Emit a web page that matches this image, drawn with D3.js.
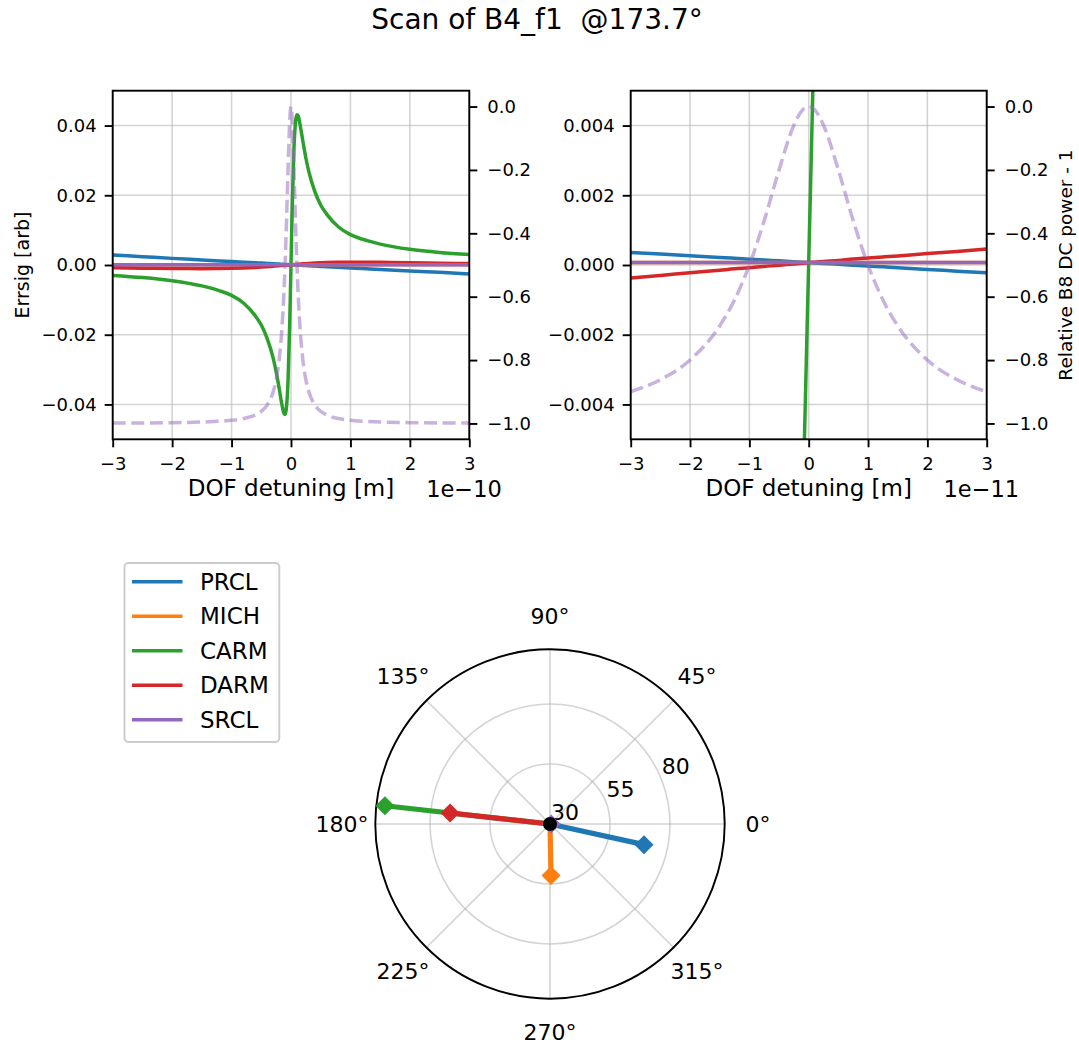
<!DOCTYPE html>
<html><head><meta charset="utf-8">
<script src="https://cdn.jsdelivr.net/npm/d3@7"></script>
<style>
html,body{margin:0;padding:0;background:#fff;}
text{font-family:"DejaVu Sans",sans-serif;fill:#000;}
</style></head>
<body>
<svg id="fig" width="1079" height="1043"></svg>
<script>
// ---------------- DATA ----------------
const seriesNames = ["PRCL", "MICH", "CARM", "DARM", "SRCL"];
const seriesColors = ["#1f77b4", "#ff7f0e", "#2ca02c", "#d62728", "#9467bd"];

// Left scan: detuning in units of 1e-10 m
const scanX1 = [-3, -2.5, -2, -1.5, -1.2, -1, -0.8, -0.6, -0.5, -0.4, -0.3, -0.25, -0.2, -0.15, -0.12, -0.1, -0.08, -0.05, -0.02, 0,
  0.02, 0.05, 0.08, 0.1, 0.12, 0.15, 0.2, 0.25, 0.3, 0.4, 0.5, 0.6, 0.8, 1, 1.2, 1.5, 2, 2.5, 3];
const prcl1 = [0.0029, 0.0024, 0.0019, 0.00145, 0.00118, 0.001, 0.00082, 0.00063, 0.00054, 0.00045, 0.00035, 0.00031, 0.00026, 0.00021, 0.00018, 0.00016, 0.00015, 0.00012, 0.00009, 0.00007,
  0.00005, 0.00002, -0.00001, -0.00003, -0.00005, -0.00008, -0.00013, -0.00018, -0.00023, -0.00032, -0.00041, -0.0005, -0.00068, -0.00086, -0.00103, -0.00128, -0.0017, -0.0021, -0.0026];
const mich1 = [0.00007, 0.00007, 0.00007, 0.00007, 0.00007, 0.00007, 0.00007, 0.00007, 0.00007, 0.00007, 0.00007, 0.00007, 0.00007, 0.00007, 0.00007, 0.00007, 0.00007, 0.00007, 0.00007, 0.00007,
  0.00007, 0.00007, 0.00007, 0.00007, 0.00007, 0.00007, 0.00007, 0.00007, 0.00007, 0.00007, 0.00007, 0.00007, 0.00007, 0.00007, 0.00007, 0.00007, 0.00007, 0.00007, 0.00007];
const carm1 = [-0.0030, -0.0036, -0.0045, -0.0060, -0.0074, -0.0087, -0.0109, -0.0146, -0.0172, -0.0211, -0.0267, -0.0306, -0.0353, -0.0403, -0.0425, -0.0429, -0.0414, -0.0333, -0.0158, 0.00007,
  0.0160, 0.0335, 0.0416, 0.0431, 0.0428, 0.0405, 0.0355, 0.0307, 0.0268, 0.0211, 0.0172, 0.0146, 0.0109, 0.0087, 0.0074, 0.0060, 0.0045, 0.0036, 0.0030];
const darm1 = [-0.00077, -0.0009, -0.00102, -0.00104, -0.001, -0.00094, -0.00085, -0.0007, -0.0006, -0.00048, -0.00035, -0.00028, -0.00021, -0.00014, -0.0001, -0.00007, -0.00004, 0.0, 0.00004, 0.00007,
  0.0001, 0.00014, 0.00018, 0.0002, 0.00023, 0.00027, 0.00033, 0.00039, 0.00045, 0.00055, 0.00063, 0.0007, 0.00076, 0.00078, 0.00078, 0.00076, 0.00068, 0.00053, 0.0004];
const srcl1 = [0.00007, 0.00007, 0.00007, 0.00007, 0.00007, 0.00007, 0.00007, 0.00007, 0.00007, 0.00007, 0.00007, 0.00007, 0.00007, 0.00007, 0.00007, 0.00007, 0.00007, 0.00007, 0.00007, 0.00007,
  0.00007, 0.00007, 0.00007, 0.00007, 0.00007, 0.00007, 0.00007, 0.00007, 0.00007, 0.00007, 0.00007, 0.00007, 0.00007, 0.00007, 0.00007, 0.00007, 0.00007, 0.00007, 0.00007];
const power1 = [-0.9989, -0.9984, -0.9975, -0.9956, -0.9931, -0.9901, -0.9846, -0.9730, -0.9615, -0.9412, -0.9, -0.8621, -0.8, -0.6923, -0.5902, -0.5, -0.3902, -0.2, -0.0385, 0,
  -0.0385, -0.2, -0.3902, -0.5, -0.5902, -0.6923, -0.8, -0.8621, -0.9, -0.9412, -0.9615, -0.9730, -0.9846, -0.9901, -0.9931, -0.9956, -0.9975, -0.9984, -0.9989];

// Right scan: detuning in units of 1e-11 m
const scanX2 = [-3, -2.5, -2, -1.5, -1.25, -1, -0.75, -0.5, -0.25, -0.1, 0, 0.1, 0.25, 0.5, 0.75, 1, 1.25, 1.5, 2, 2.5, 3];
const prcl2 = [0.00036, 0.000316, 0.000267, 0.000217, 0.000193, 0.000168, 0.000144, 0.000119, 0.000095, 0.00008, 0.00007, 0.00006, 0.000045, 0.000021, -0.000004, -0.000028, -0.000053, -0.000077, -0.000127, -0.000176, -0.000225];
const mich2 = [0.00007, 0.00007, 0.00007, 0.00007, 0.00007, 0.00007, 0.00007, 0.00007, 0.00007, 0.00007, 0.00007, 0.00007, 0.00007, 0.00007, 0.00007, 0.00007, 0.00007, 0.00007, 0.00007, 0.00007, 0.00007];
const carm2 = [-0.0267, -0.0306, -0.0353, -0.0403, -0.0423, -0.0429, -0.0406, -0.0333, -0.0194, -0.0070, 0.00007, 0.0072, 0.0196, 0.0335, 0.0407, 0.0430, 0.0424, 0.0404, 0.0354, 0.0307, 0.0268];
const darm2 = [-0.00037, -0.0003, -0.00022, -0.00015, -0.00011, -0.00008, -0.00004, -0.00001, 0.00003, 0.00005, 0.00007, 0.00008, 0.0001, 0.00013, 0.00017, 0.0002, 0.00023, 0.00026, 0.00033, 0.00039, 0.00046];
const srcl2 = [0.00007, 0.00007, 0.00007, 0.00007, 0.00007, 0.00007, 0.00007, 0.00007, 0.00007, 0.00007, 0.00007, 0.00007, 0.00007, 0.00007, 0.00007, 0.00007, 0.00007, 0.00007, 0.00007, 0.00007, 0.00007];
const power2 = [-0.9, -0.862, -0.8, -0.692, -0.61, -0.5, -0.36, -0.2, -0.0588, -0.0099, 0, -0.0099, -0.0588, -0.2, -0.36, -0.5, -0.61, -0.692, -0.8, -0.862, -0.9];

// Tick labels
const xTicks = [-3, -2, -1, 0, 1, 2, 3];
const yTicksL1 = [-0.04, -0.02, 0, 0.02, 0.04];
const yTicksL2 = [-0.004, -0.002, 0, 0.002, 0.004];
const yTicksR = [-1.0, -0.8, -0.6, -0.4, -0.2, 0.0];

// Polar (sensing matrix) data
const polarAngleDeg = [347.6, 271.1, 173.7, 173.7, 0];
const polarMag = [70.1, 51.5, 99.2, 71.9, 30.5];
const polarRTicks = [30, 55, 80];
const polarThetaTicks = [0, 45, 90, 135, 180, 225, 270, 315];

// ---------------- DRAW ----------------
const svg = d3.select("#fig");
const minus = s => s.replace("-", "\u2212");
const TICKFS = 18;

svg.append("text").attr("x", 537).attr("y", 28.5).attr("text-anchor", "middle")
  .attr("xml:space", "preserve").style("white-space", "pre")
  .style("font-size", "28px").text("Scan of B4_f1  @173.7°");

function panel(opt) {
  const {x0, x1, y0, y1, xs, series, power, yDomain, yTicks, yFmt, offsetText, showLeftLabel, showRightLabel, id} = opt;
  const g = svg.append("g");
  const x = d3.scaleLinear().domain([-3, 3]).range([x0, x1]);
  const yl = d3.scaleLinear().domain(yDomain).range([y1, y0]);
  const yr = d3.scaleLinear().domain([-1.05, 0.05]).range([y1, y0]);

  svg.append("clipPath").attr("id", id).append("rect")
    .attr("x", x0).attr("y", y0).attr("width", x1 - x0).attr("height", y1 - y0);

  // grid
  const grid = g.append("g").attr("stroke", "#b0b0b0").attr("stroke-opacity", 0.55).attr("stroke-width", 1.6);
  xTicks.forEach(t => grid.append("line").attr("x1", x(t)).attr("x2", x(t)).attr("y1", y0).attr("y2", y1));
  yTicks.forEach(t => grid.append("line").attr("y1", yl(t)).attr("y2", yl(t)).attr("x1", x0).attr("x2", x1));

  // lines
  const data = g.append("g").attr("clip-path", `url(#${id})`);
  series.forEach((vals, i) => {
    const pts = xs.map((xv, k) => [xv, vals[k]]);
    data.append("path").datum(pts)
      .attr("d", d3.line().x(d => x(d[0])).y(d => yl(d[1])).curve(d3.curveMonotoneX))
      .attr("fill", "none").attr("stroke", seriesColors[i]).attr("stroke-width", 3.5);
  });
  const ppts = xs.map((xv, k) => [xv, power[k]]);
  data.append("path").datum(ppts)
    .attr("d", d3.line().x(d => x(d[0])).y(d => yr(d[1])).curve(d3.curveMonotoneX))
    .attr("fill", "none").attr("stroke", "#9467bd").attr("stroke-opacity", 0.5)
    .attr("stroke-width", 3.5).attr("stroke-dasharray", "13,5.6");

  // axes
  const styleAxis = sel => {
    sel.select(".domain").remove();
    sel.selectAll(".tick line").attr("stroke", "#000").attr("stroke-width", 1.9);
    sel.selectAll(".tick text").style("font-size", TICKFS + "px").style("font-family", "DejaVu Sans");
  };
  g.append("g").attr("transform", `translate(0,${y1})`)
    .call(d3.axisBottom(x).tickValues(xTicks).tickSize(8).tickPadding(10).tickFormat(d => minus(String(d))))
    .call(styleAxis);
  g.append("g").attr("transform", `translate(${x0},0)`)
    .call(d3.axisLeft(yl).tickValues(yTicks).tickSize(8).tickPadding(8).tickFormat(d => minus(yFmt(d))))
    .call(styleAxis);
  g.append("g").attr("transform", `translate(${x1},0)`)
    .call(d3.axisRight(yr).tickValues(yTicksR).tickSize(8).tickPadding(10).tickFormat(d => minus(d3.format(".1f")(d))))
    .call(styleAxis);

  // frame
  g.append("rect").attr("x", x0).attr("y", y0).attr("width", x1 - x0).attr("height", y1 - y0)
    .attr("fill", "none").attr("stroke", "#000").attr("stroke-width", 1.9);

  g.append("text").attr("x", (x0 + x1) / 2).attr("y", 495.7).attr("text-anchor", "middle")
    .style("font-size", "23px").text("DOF detuning [m]");
  g.append("text").attr("x", x1 + 32.5).attr("y", 496.7).attr("text-anchor", "end")
    .style("font-size", "22.5px").text(offsetText);
  if (showLeftLabel) {
    g.append("text").attr("transform", `translate(22,${(y0 + y1) / 2}) rotate(-90)`)
      .attr("text-anchor", "middle").attr("dominant-baseline", "central")
      .style("font-size", "19px").text("Errsig [arb]");
  }
  if (showRightLabel) {
    g.append("text").attr("transform", `translate(1065,${(y0 + y1) / 2}) rotate(-90)`)
      .attr("text-anchor", "middle").attr("dominant-baseline", "central")
      .style("font-size", "18.5px").text("Relative B8 DC power - 1");
  }
}

panel({x0: 112.7, x1: 469.3, y0: 90.7, y1: 439.3, xs: scanX1,
  series: [prcl1, mich1, carm1, darm1, srcl1], power: power1,
  yDomain: [-0.05, 0.05], yTicks: yTicksL1, yFmt: d3.format(".2f"),
  offsetText: "1e\u221210", showLeftLabel: true, showRightLabel: false, id: "clipL"});
panel({x0: 630.7, x1: 986.7, y0: 90.7, y1: 439.3, xs: scanX2,
  series: [prcl2, mich2, carm2, darm2, srcl2], power: power2,
  yDomain: [-0.005, 0.005], yTicks: yTicksL2, yFmt: d3.format(".3f"),
  offsetText: "1e\u221211", showLeftLabel: false, showRightLabel: true, id: "clipR"});

// ---------------- POLAR ----------------
const cx = 550, cy = 824, R = 174.7;
const r = d3.scaleLinear().domain([30, 102.8]).range([0, R]);
const pg = svg.append("g");
const toXY = (deg, rv) => {
  const a = deg * Math.PI / 180;
  return [cx + r(rv) * Math.cos(a), cy - r(rv) * Math.sin(a)];
};
const pgrid = pg.append("g").attr("stroke", "#b0b0b0").attr("stroke-opacity", 0.55).attr("stroke-width", 1.6).attr("fill", "none");
polarRTicks.forEach(t => pgrid.append("circle").attr("cx", cx).attr("cy", cy).attr("r", r(t)));
polarThetaTicks.forEach(t => {
  const [ex, ey] = toXY(t, 102.8);
  pgrid.append("line").attr("x1", cx).attr("y1", cy).attr("x2", ex).attr("y2", ey);
});
pg.append("circle").attr("cx", cx).attr("cy", cy).attr("r", R)
  .attr("fill", "none").attr("stroke", "#000").attr("stroke-width", 1.9);

polarThetaTicks.forEach(t => {
  const a = t * Math.PI / 180;
  pg.append("text").attr("x", cx + 208 * Math.cos(a)).attr("y", cy - 208 * Math.sin(a))
    .attr("text-anchor", "middle").attr("dominant-baseline", "central")
    .style("font-size", "22px").text(t + "°");
});
polarRTicks.forEach(t => {
  const [px, py] = toXY(22.5, t);
  pg.append("text").attr("x", px + 1).attr("y", py - 4).attr("text-anchor", "start")
    .style("font-size", "22px").text(t);
});

polarMag.forEach((m, i) => {
  const [px, py] = toXY(polarAngleDeg[i], m);
  pg.append("line").attr("x1", cx).attr("y1", cy).attr("x2", px).attr("y2", py)
    .attr("stroke", seriesColors[i]).attr("stroke-width", 5.2);
  const s = 9.5;
  pg.append("path").attr("d", `M${px},${py - s}L${px + s},${py}L${px},${py + s}L${px - s},${py}Z`)
    .attr("fill", seriesColors[i]);
});
pg.append("circle").attr("cx", cx).attr("cy", cy).attr("r", 7).attr("fill", "#000");

// ---------------- LEGEND ----------------
const lg = svg.append("g");
lg.append("rect").attr("x", 124.5).attr("y", 563).attr("width", 154.8).attr("height", 179)
  .attr("rx", 4).attr("fill", "#fff").attr("fill-opacity", 0.8)
  .attr("stroke", "#cccccc").attr("stroke-width", 1.9);
seriesNames.forEach((n, i) => {
  const yy = 581.7 + i * 34.5;
  lg.append("line").attr("x1", 132).attr("x2", 182.5).attr("y1", yy).attr("y2", yy)
    .attr("stroke", seriesColors[i]).attr("stroke-width", 3.5);
  lg.append("text").attr("x", 200).attr("y", yy).attr("dominant-baseline", "central")
    .style("font-size", "23px").text(n);
});
</script>
</body></html>
